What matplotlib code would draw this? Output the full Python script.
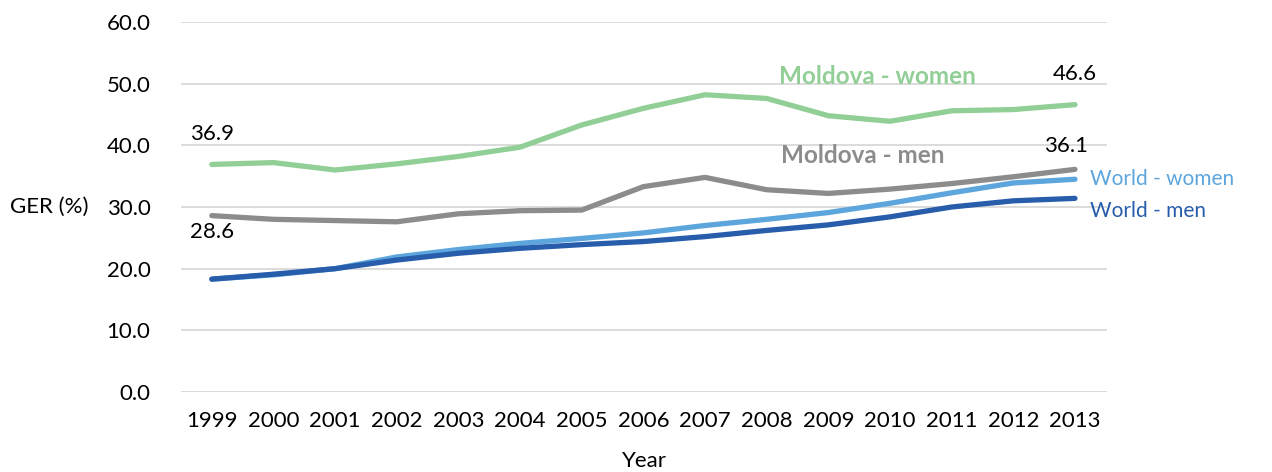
import numpy as np
import matplotlib.pyplot as plt

plt.rcParams['font.family'] = ['Lato', 'DejaVu Sans']

years = np.arange(1999, 2014)

moldova_women = [36.9, 37.2, 36.0, 37.0, 38.2, 39.7, 43.3, 46.0, 48.2, 47.6, 44.8, 43.9, 45.6, 45.8, 46.6]
moldova_men = [28.6, 28.0, 27.8, 27.6, 28.9, 29.4, 29.5, 33.3, 34.8, 32.8, 32.2, 32.9, 33.8, 34.9, 36.1]
world_women = [18.3, 19.0, 20.0, 21.9, 23.1, 24.1, 24.9, 25.8, 27.0, 28.0, 29.1, 30.6, 32.3, 33.9, 34.5]
world_men = [18.3, 19.1, 20.0, 21.4, 22.5, 23.3, 23.9, 24.4, 25.2, 26.2, 27.1, 28.4, 30.0, 31.0, 31.4]

c_green = '#92CF96'
c_gray = '#8C8C8C'
c_light = '#5DA5DD'
c_dark = '#285DAB'

fig = plt.figure(figsize=(12.72, 4.72), dpi=100)
ax = fig.add_axes([0.1423, 0.1695, 0.7280, 0.7839])

lw = 3.8
ax.plot(years, moldova_women, color=c_green, lw=lw, solid_capstyle='round', zorder=3)
ax.plot(years, moldova_men, color=c_gray, lw=lw, solid_capstyle='round', zorder=3)
ax.plot(years, world_women, color=c_light, lw=lw, solid_capstyle='round', zorder=3)
ax.plot(years, world_men, color=c_dark, lw=lw, solid_capstyle='round', zorder=4)

fs = 16
ax.set_xlim(1998.5, 2013.52)
ax.set_ylim(0, 60)
ax.set_yticks(np.arange(0, 61, 10))
ax.set_yticklabels([f'{v:.1f}' for v in np.arange(0, 61, 10)])
ax.set_xticks(years)
ax.set_xticklabels([str(y) for y in years])
ax.tick_params(axis='both', length=0, labelsize=fs, colors='black')
ax.tick_params(axis='x', pad=14)
ax.tick_params(axis='y', pad=22)
ax.grid(axis='y', color='#D9D9D9', lw=1.3)
ax.set_axisbelow(True)
for s in ax.spines.values():
    s.set_visible(False)

ax.set_xlabel('Year', fontsize=fs, labelpad=14)
fig.text(10 / 1272, 1 - 207 / 472, 'GER (%)', fontsize=fs, ha='left', va='center')

# value labels at the ends of the Moldova series
lab = dict(fontsize=fs, color='black', ha='center')
ax.text(years[0], moldova_women[0] + 3.3, f'{moldova_women[0]:.1f}', va='bottom', **lab)
ax.text(years[0], moldova_men[0] - 1.1, f'{moldova_men[0]:.1f}', va='top', **lab)
ax.text(years[-1], moldova_women[-1] + 3.4, f'{moldova_women[-1]:.1f}', va='bottom', **lab)
ax.text(years[-1] - 0.15, moldova_men[-1] + 2.2, f'{moldova_men[-1]:.1f}', va='bottom', **lab)

# series names
ax.text(2009.8, 51.1, 'Moldova - women', color=c_green, fontsize=17.5,
        fontweight='bold', ha='center', va='center')
ax.text(2009.55, 38.4, 'Moldova - men', color=c_gray, fontsize=17.5,
        fontweight='bold', ha='center', va='center')
ax.text(2013.25, 34.5, 'World - women', color=c_light, fontsize=15,
        ha='left', va='center', clip_on=False)
ax.text(2013.25, 29.3, 'World - men', color=c_dark, fontsize=15,
        ha='left', va='center', clip_on=False)

fig.savefig('out.png', dpi=100)
